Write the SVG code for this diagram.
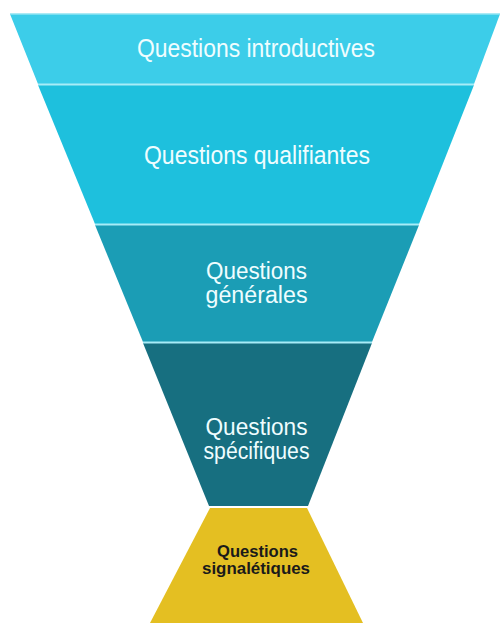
<svg xmlns="http://www.w3.org/2000/svg" width="502" height="623" viewBox="0 0 502 623">
<style>
.band{stroke:none}
.sep{stroke:#a8ecf7;stroke-width:2}
.lbl{font-family:"Liberation Sans",Arial,sans-serif;fill:#effdff;text-anchor:middle}
.dark{font-family:"Liberation Sans",Arial,sans-serif;fill:#1a1a1a;font-weight:bold;text-anchor:middle}
</style>
<rect width="502" height="623" fill="#ffffff"/>
<g id="band1">
<polygon class="band" points="10,14 500,14 474,84 38,84" fill="#3ccde9"/>
<line x1="10" y1="14" x2="500" y2="14" stroke="#8fe3f2" stroke-width="1.5"/>
<text class="lbl" x="256" y="57" font-size="26" textLength="238" lengthAdjust="spacingAndGlyphs">Questions introductives</text>
</g>
<g id="band2">
<polygon class="band" points="38,85 474,85 419,224 95,224" fill="#1ec0dd"/>
<text class="lbl" x="257" y="164" font-size="25" textLength="226" lengthAdjust="spacingAndGlyphs">Questions qualifiantes</text>
</g>
<g id="band3">
<polygon class="band" points="95,225 419,225 372,342 143,342" fill="#1b9db5"/>
<text class="lbl" x="256.5" y="279" font-size="23" textLength="101" lengthAdjust="spacingAndGlyphs">Questions</text>
<text class="lbl" x="256.5" y="303" font-size="23" textLength="102" lengthAdjust="spacingAndGlyphs">générales</text>
</g>
<g id="band4">
<polygon class="band" points="143,343 372,343 308,506 209,506" fill="#176f80"/>
<text class="lbl" x="256.5" y="435" font-size="23" textLength="102" lengthAdjust="spacingAndGlyphs">Questions</text>
<text class="lbl" x="256.5" y="459" font-size="23" textLength="106" lengthAdjust="spacingAndGlyphs">spécifiques</text>
</g>
<g id="band5">
<polygon class="band" points="210,508 307,508 363,623 150,623" fill="#e4bf22"/>
<text class="dark" x="257.5" y="557" font-size="16" textLength="81" lengthAdjust="spacingAndGlyphs">Questions</text>
<text class="dark" x="256" y="574" font-size="16" textLength="108" lengthAdjust="spacingAndGlyphs">signalétiques</text>
</g>
<g id="connectors">
<line class="sep" x1="38" y1="84.5" x2="474" y2="84.5"/>
<line class="sep" x1="95" y1="224.5" x2="419" y2="224.5"/>
<line class="sep" x1="143" y1="342.5" x2="372" y2="342.5"/>
</g>
</svg>
